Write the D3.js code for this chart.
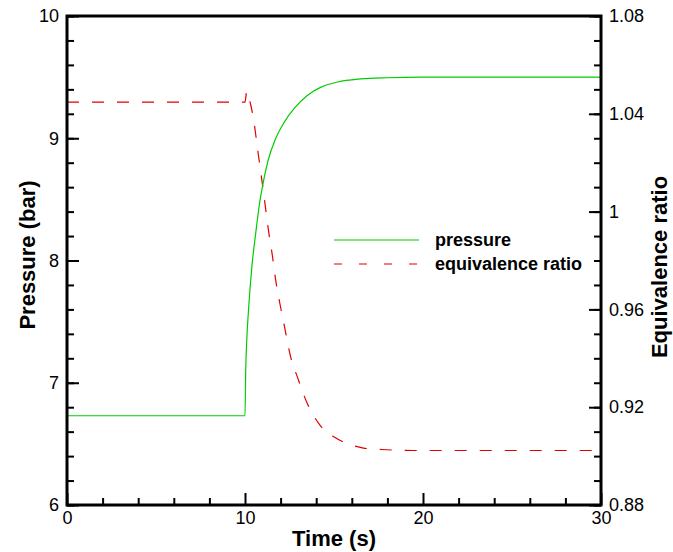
<!DOCTYPE html>
<html>
<head>
<meta charset="utf-8">
<script src="https://cdn.jsdelivr.net/npm/d3@7"></script>
<style>
  body { margin: 0; background: #fff; }
  text { font-family: 'Liberation Sans', Arial, sans-serif; }
</style>
</head>
<body>
<div id="chart"></div>
<script>
// pressure series (left axis)
const pressureTime = [0, 10, 10.04, 10.1, 10.2, 10.4, 10.6, 10.8, 11.0, 11.3, 11.7, 12.2, 12.8, 13.5, 14.3, 15.2, 16.5, 18, 20, 30]
const pressureValue = [6.73, 6.73, 7.1, 7.35, 7.6, 7.97, 8.22, 8.45, 8.62, 8.82, 8.99, 9.13, 9.25, 9.35, 9.42, 9.46, 9.485, 9.495, 9.5, 9.5]

// equivalence ratio series (right axis)
const phiTime = [0, 10, 10.1, 10.32, 10.47, 10.75, 11.08, 11.31, 11.53, 11.72, 11.97, 12.25, 12.53, 12.99, 13.47, 14.21, 15.06, 15.99, 16.65, 17.96, 19.44, 30]
const phiValue = [1.0448, 1.0448, 1.0493, 1.0437, 1.0382, 1.0233, 1.0057, 0.9927, 0.9824, 0.9722, 0.962, 0.9518, 0.9416, 0.9314, 0.922, 0.9127, 0.9076, 0.9045, 0.9033, 0.9026, 0.9023, 0.9023]

// ticks
const xTicks = [0, 10, 20, 30]
const xMinor = [2, 4, 6, 8, 12, 14, 16, 18, 22, 24, 26, 28]
const yLeftTicks = [6, 7, 8, 9, 10]
const yRightTicks = [0.88, 0.92, 0.96, 1, 1.04, 1.08]

const legendLabels = ['pressure', 'equivalence ratio']

const dimensions = {
  width: 673,
  height: 552,
  left: 67,
  right: 601,
  top: 16,
  bottom: 505,
}

const svg = d3
  .select('#chart')
  .append('svg')
  .attr('width', dimensions.width)
  .attr('height', dimensions.height)

const xScale = d3.scaleLinear().domain([0, 30]).range([dimensions.left, dimensions.right])
const yLeft = d3.scaleLinear().domain([6, 10]).range([dimensions.bottom, dimensions.top])
const yRight = d3.scaleLinear().domain([0.88, 1.08]).range([dimensions.bottom, dimensions.top])

const green = '#00cc00'
const red = '#e00000'
const dash = '12,13'

// curves
const pressureData = pressureTime.map((t, i) => [t, pressureValue[i]])
const phiData = phiTime.map((t, i) => [t, phiValue[i]])

const linePressure = d3
  .line()
  .x((d) => xScale(d[0]))
  .y((d) => yLeft(d[1]))
  .curve(d3.curveMonotoneX)

const linePhi = d3
  .line()
  .x((d) => xScale(d[0]))
  .y((d) => yRight(d[1]))
  .curve(d3.curveMonotoneX)

svg
  .append('path')
  .datum(phiData)
  .attr('d', linePhi)
  .attr('fill', 'none')
  .attr('stroke', red)
  .attr('stroke-width', 1.2)
  .attr('stroke-dasharray', dash)

svg
  .append('path')
  .datum(pressureData)
  .attr('d', linePressure)
  .attr('fill', 'none')
  .attr('stroke', green)
  .attr('stroke-width', 1.2)

// axes: ticks point inward
const axisStyle = (g) => {
  g.select('.domain').remove()
  g.selectAll('line').attr('stroke', '#000').attr('stroke-width', 2)
  g.selectAll('text').attr('font-size', 18).attr('fill', '#000')
}

svg
  .append('g')
  .attr('transform', `translate(0, ${dimensions.bottom})`)
  .call(d3.axisBottom(xScale).tickValues(xMinor).tickSize(-7).tickFormat(''))
  .call(axisStyle)
svg
  .append('g')
  .attr('transform', `translate(0, ${dimensions.bottom})`)
  .call(d3.axisBottom(xScale).tickValues(xTicks).tickSize(-12).tickPadding(6))
  .call(axisStyle)

svg
  .append('g')
  .attr('transform', `translate(${dimensions.left}, 0)`)
  .call(d3.axisLeft(yLeft).tickValues(d3.range(6, 10.01, 0.2)).tickSize(-7).tickFormat(''))
  .call(axisStyle)
svg
  .append('g')
  .attr('transform', `translate(${dimensions.left}, 0)`)
  .call(d3.axisLeft(yLeft).tickValues(yLeftTicks).tickSize(-12).tickPadding(8).tickFormat(d3.format('')))
  .call(axisStyle)

svg
  .append('g')
  .attr('transform', `translate(${dimensions.right}, 0)`)
  .call(d3.axisRight(yRight).tickValues(d3.range(0.88, 1.0801, 0.01)).tickSize(-7).tickFormat(''))
  .call(axisStyle)
svg
  .append('g')
  .attr('transform', `translate(${dimensions.right}, 0)`)
  .call(d3.axisRight(yRight).tickValues(yRightTicks).tickSize(-12).tickPadding(8).tickFormat(d3.format('')))
  .call(axisStyle)

// frame
svg
  .append('rect')
  .attr('x', dimensions.left)
  .attr('y', dimensions.top)
  .attr('width', dimensions.right - dimensions.left)
  .attr('height', dimensions.bottom - dimensions.top)
  .attr('fill', 'none')
  .attr('stroke', '#000')
  .attr('stroke-width', 3)

// axis titles
svg
  .append('text')
  .attr('x', (dimensions.left + dimensions.right) / 2)
  .attr('y', 546)
  .attr('text-anchor', 'middle')
  .attr('font-weight', 'bold')
  .attr('font-size', 22)
  .text('Time (s)')

svg
  .append('text')
  .attr('transform', `translate(35, 255) rotate(-90)`)
  .attr('text-anchor', 'middle')
  .attr('font-weight', 'bold')
  .attr('font-size', 22)
  .text('Pressure (bar)')

svg
  .append('text')
  .attr('transform', `translate(667, 267) rotate(-90)`)
  .attr('text-anchor', 'middle')
  .attr('font-weight', 'bold')
  .attr('font-size', 22)
  .text('Equivalence ratio')

// legend
const legend = svg.append('g').attr('transform', 'translate(334, 240)')
legendLabels.forEach((label, i) => {
  legend
    .append('line')
    .attr('x1', 0)
    .attr('x2', 85)
    .attr('y1', i * 24)
    .attr('y2', i * 24)
    .attr('stroke', i === 0 ? green : red)
    .attr('stroke-width', 1.2)
    .attr('stroke-dasharray', i === 0 ? null : '8,17')
  legend
    .append('text')
    .attr('x', 101)
    .attr('y', i * 24)
    .attr('dy', '0.35em')
    .attr('font-weight', 'bold')
    .attr('font-size', 18)
    .text(label)
})
</script>
</body>
</html>
